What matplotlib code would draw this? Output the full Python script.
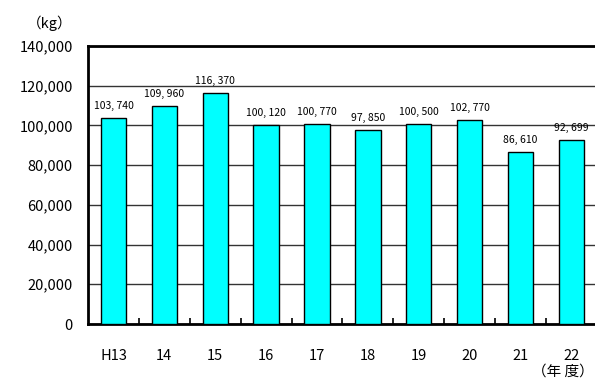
import matplotlib.pyplot as plt

plt.rcParams['font.family'] = ['Noto Sans CJK JP', 'DejaVu Sans']

years = ['H13', '14', '15', '16', '17', '18', '19', '20', '21', '22']
amounts = [103740, 109960, 116370, 100120, 100770, 97850, 100500, 102770, 86610, 92699]
value_labels = ['103, 740', '109, 960', '116, 370', '100, 120', '100, 770',
                '97, 850', '100, 500', '102, 770', '86, 610', '92, 699']

fig = plt.figure(figsize=(5.95, 3.83), dpi=100)
ax = fig.add_axes([0.148, 0.154, 0.855, 0.726])

x = range(len(years))
ax.bar(x, amounts, width=0.5, color='#00FFFF', edgecolor='black', linewidth=1.0, zorder=3)

for i, (v, lab) in enumerate(zip(amounts, value_labels)):
    ax.annotate(lab, (i, v), xytext=(0, 5), textcoords='offset points',
                ha='center', va='bottom', fontsize=7.5)

ax.set_xlim(-0.5, len(years) - 0.5)
ax.set_ylim(0, 140000)
ax.set_yticks(range(0, 140001, 20000))
ax.set_yticklabels(['{:,}'.format(t) for t in range(0, 140001, 20000)], fontsize=10.5)
ax.yaxis.grid(True, color='#333333', linewidth=1.0, zorder=0)
ax.set_axisbelow(True)

ax.set_xticks(list(x))
ax.set_xticklabels(years, fontsize=10.5)
ax.tick_params(axis='x', length=0, pad=18)
ax.tick_params(axis='y', length=0, pad=11)

# small inward ticks between categories
ax.set_xticks([i + 0.5 for i in range(len(years) - 1)], minor=True)
ax.tick_params(axis='x', which='minor', direction='in', length=4, width=1.2)

for s in ['top', 'left', 'bottom']:
    ax.spines[s].set_linewidth(2)
ax.spines['right'].set_visible(False)

fig.text(0.045, 0.94, '（kg）', fontsize=10.5, ha='left', va='center')
fig.text(0.998, 0.03, '（年 度）', fontsize=10.5, ha='right', va='center')

fig.savefig('out.png', dpi=100)
